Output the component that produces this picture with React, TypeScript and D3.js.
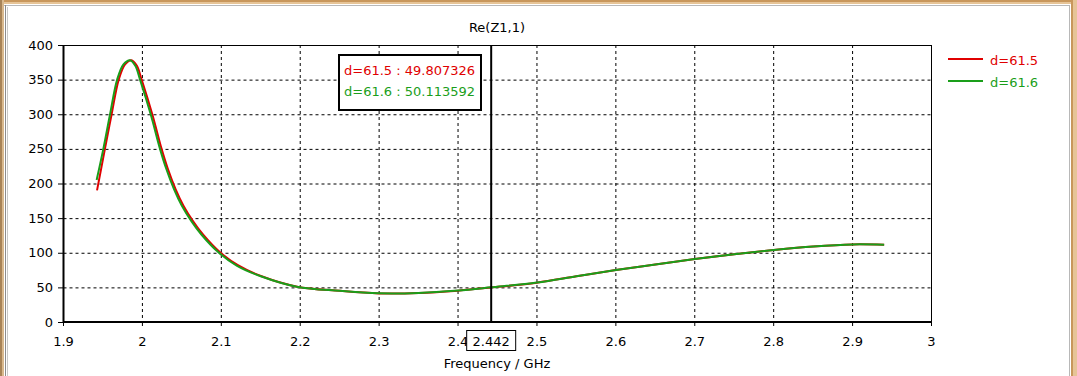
import React from "react";
import * as d3 from "d3";

const xTicks = [1.9, 2, 2.1, 2.2, 2.3, 2.4, 2.5, 2.6, 2.7, 2.8, 2.9, 3];
const xTickLabels = ["1.9", "2", "2.1", "2.2", "2.3", "2.4", "2.5", "2.6", "2.7", "2.8", "2.9", "3"];
const yTicks = [0, 50, 100, 150, 200, 250, 300, 350, 400];

const freqRed = [1.9425, 1.9525, 1.961, 1.97, 1.978, 1.986, 1.993, 1.999, 2.0125, 2.0243, 2.032, 2.042, 2.052, 2.0645, 2.077, 2.098, 2.121, 2.151, 2.196, 2.25, 2.3, 2.35, 2.4, 2.442, 2.5, 2.55, 2.6, 2.65, 2.7, 2.75, 2.8, 2.85, 2.9, 2.94];
const valRed = [190, 250, 300, 350, 372, 378, 370, 350, 300, 250, 222, 192, 168, 145, 126, 101, 82, 66, 51, 45, 41.3, 41.8, 45.3, 49.8, 56.8, 66, 75, 83, 91, 98, 104, 109, 112, 111.5];

const freqGreen = [1.942, 1.9505, 1.959, 1.968, 1.976, 1.9843, 1.991, 1.997, 2.0105, 2.0223, 2.03, 2.04, 2.05, 2.0625, 2.075, 2.096, 2.12, 2.15, 2.1955, 2.25, 2.3, 2.35, 2.4, 2.442, 2.5, 2.55, 2.6, 2.65, 2.7, 2.75, 2.8, 2.85, 2.9, 2.94];
const valGreen = [205, 250, 300, 350, 372, 378, 370, 350, 300, 250, 222, 192, 168, 145, 126, 101, 81, 66, 51, 45, 41.5, 42, 45.5, 50.1, 57, 66, 75, 83, 91, 98, 104, 109, 112, 111.5];

const seriesNames = ["d=61.5", "d=61.6"];
const cursorFreq = 2.442;
const cursorValues = ["49.807326", "50.113592"];

const RED = "#e00000";
const GREEN = "#1a9e1a";
const FONT = "DejaVu Sans";

export default function App() {
  const x = d3.scaleLinear().domain([1.9, 3]).range([63.5, 931.5]);
  const y = d3.scaleLinear().domain([0, 400]).range([322, 45]);
  const line = d3
    .line<[number, number]>()
    .x((d) => x(d[0]))
    .y((d) => y(d[1]))
    .curve(d3.curveCatmullRom.alpha(0.5));
  const redPts = freqRed.map((f, i) => [f, valRed[i]] as [number, number]);
  const greenPts = freqGreen.map((f, i) => [f, valGreen[i]] as [number, number]);
  const cx = x(cursorFreq);
  const colors = [RED, GREEN];

  return (
    <svg
      width={1077}
      height={376}
      style={{ position: "fixed", left: 0, top: 0, background: "#fff" }}
      fontFamily={FONT}
      fontSize={13}
    >
      {/* window frame */}
      <rect x={0} y={0} width={1077} height={376} fill="#ffffff" />
      <rect x={0} y={0} width={1077} height={2} fill="#c8975c" />
      <rect x={0} y={2} width={1077} height={2} fill="#e6c497" />
      <rect x={4} y={5} width={1066} height={1} fill="#b8b8b8" />
      <rect x={0} y={0} width={2} height={376} fill="#a88458" />
      <rect x={2} y={0} width={2} height={376} fill="#d9b98e" />
      <rect x={5} y={5} width={1} height={371} fill="#8c8c8c" />
      <rect x={7} y={7} width={1} height={369} fill="#c8c8c8" />
      <rect x={1069} y={5} width={1} height={371} fill="#b8b8b8" />
      <rect x={1071} y={0} width={2} height={376} fill="#c8975c" />
      <rect x={1073} y={0} width={4} height={376} fill="#e6c497" />

      {/* grid */}
      {xTicks.slice(1, -1).map((t) => (
        <line key={"gx" + t} x1={x(t)} x2={x(t)} y1={45} y2={322} stroke="#000" strokeWidth={1} strokeDasharray="3,3" />
      ))}
      {yTicks.slice(1, -1).map((t) => (
        <line key={"gy" + t} x1={63.5} x2={931.5} y1={y(t) + 0.5} y2={y(t) + 0.5} stroke="#000" strokeWidth={1} strokeDasharray="3,3" />
      ))}

      {/* plot border */}
      <rect x={63.5} y={45.5} width={868} height={276.5} fill="none" stroke="#000" strokeWidth={1} />
      <line x1={63.5} x2={63.5} y1={45} y2={323} stroke="#000" strokeWidth={2} />
      <line x1={63} x2={932} y1={322} y2={322} stroke="#000" strokeWidth={2} />

      {/* ticks */}
      {yTicks.map((t) => (
        <g key={"yt" + t}>
          <line x1={58} x2={63} y1={y(t) + 0.5} y2={y(t) + 0.5} stroke="#000" />
          <text x={53} y={y(t)} textAnchor="end" dominantBaseline="central">{t}</text>
        </g>
      ))}
      {xTicks.map((t, i) => (
        <g key={"xt" + t}>
          <line x1={x(t)} x2={x(t)} y1={322} y2={326} stroke="#000" />
          <text x={x(t)} y={341} textAnchor="middle" dominantBaseline="central">{xTickLabels[i]}</text>
        </g>
      ))}

      {/* title and axis label */}
      <text x={497} y={27} textAnchor="middle" dominantBaseline="central">Re(Z1,1)</text>
      <text x={497} y={363} textAnchor="middle" dominantBaseline="central">Frequency / GHz</text>

      {/* curves */}
      <path d={line(redPts) || ""} fill="none" stroke={RED} strokeWidth={2} />
      <path d={line(greenPts) || ""} fill="none" stroke={GREEN} strokeWidth={2} />

      {/* cursor */}
      <line x1={cx} x2={cx} y1={45} y2={322} stroke="#000" strokeWidth={2} />
      <rect x={cx - 24.5} y={330.5} width={49} height={20} fill="#fff" stroke="#000" strokeWidth={1} />
      <text x={cx} y={341} textAnchor="middle" dominantBaseline="central">{String(cursorFreq)}</text>

      {/* annotation box */}
      <rect x={339} y={55} width={142} height={55} fill="#fff" stroke="#000" strokeWidth={2} />
      {seriesNames.map((n, i) => (
        <text key={"ann" + i} x={344} y={70 + i * 21} dominantBaseline="central" fill={colors[i]}>
          {n + " : " + cursorValues[i]}
        </text>
      ))}

      {/* legend */}
      {seriesNames.map((n, i) => (
        <g key={"lg" + i}>
          <line x1={948} x2={983} y1={59 + i * 22} y2={59 + i * 22} stroke={colors[i]} strokeWidth={2} />
          <text x={990} y={60 + i * 22} dominantBaseline="central" fill={colors[i]}>{n}</text>
        </g>
      ))}
    </svg>
  );
}
